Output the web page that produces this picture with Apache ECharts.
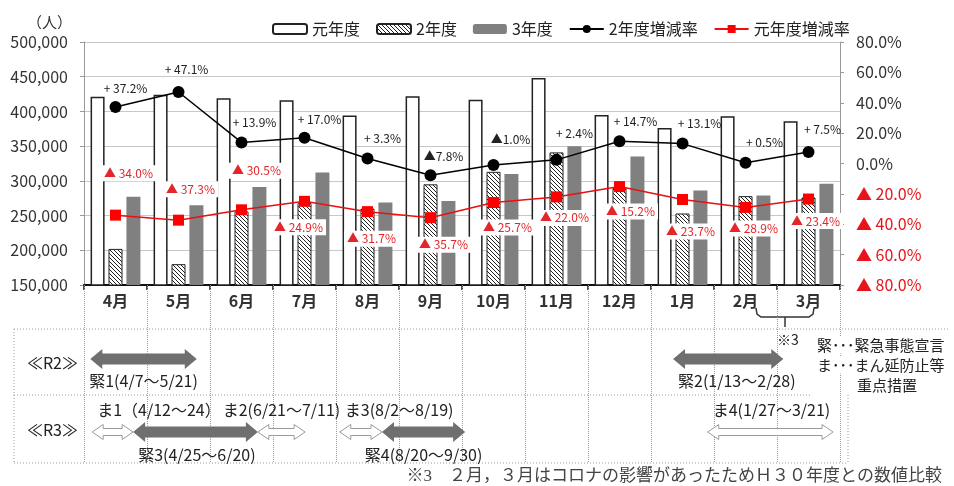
<!DOCTYPE html>
<html><head><meta charset="utf-8">
<script src="https://cdn.jsdelivr.net/npm/echarts@6/dist/echarts.min.js"></script>
<style>html,body{margin:0;padding:0;background:#fff}#c{width:954px;height:486px}</style>
</head><body><div id="c"></div>
<script>
// ---- data ----
const months = ['4月','5月','6月','7月','8月','9月','10月','11月','12月','1月','2月','3月'];
const visitorsR1 = [421000, 424000, 419000, 416000, 394000, 422000, 417000, 448000, 395000, 376000, 393000, 386000];
const visitorsR2 = [202000, 180000, 256000, 268000, 260000, 295000, 313000, 341000, 290000, 253000, 278000, 276000];
const visitorsR3 = [277000, 265000, 291000, 312000, 269000, 271000, 310000, 350000, 335000, 286000, 279000, 296000];
const rateR2 = [37.2, 47.1, 13.9, 17.0, 3.3, -7.8, -1.0, 2.4, 14.7, 13.1, 0.5, 7.5];
const rateR1 = [-34.0, -37.3, -30.5, -24.9, -31.7, -35.7, -25.7, -22.0, -15.2, -23.7, -28.9, -23.4];
const leftAxisMin = 150000, leftAxisMax = 500000, leftAxisStep = 50000;
const rightAxisMin = -80, rightAxisMax = 80, rightAxisStep = 20;
const seriesNames = ['元年度', '2年度', '3年度', '2年度増減率', '元年度増減率'];
const rowNames = ['≪R2≫', '≪R3≫'];
const periodNames = ['緊1(4/7～5/21)', '緊2(1/13～2/28)', 'ま1（4/12～24）', '緊3(4/25～6/20)', 'ま2(6/21～7/11)', 'ま3(8/2～8/19)', '緊4(8/20～9/30)', 'ま4(1/27～3/21)'];
const periodRow = [0, 0, 1, 1, 1, 1, 1, 1];
// start / end of each period in months counted from the start of April
const periodStart = [0.10, 9.35, 0.13, 0.78, 2.76, 4.06, 4.73, 9.90];
const periodEnd   = [1.79, 11.10, 0.78, 2.76, 3.51, 4.73, 6.05, 11.89];

// ---- layout (label placement) ----
const periodAnchor = ['center','start','start','start','center','start','center','start'];
const blackLabelOffset = [[10,-19],[8,-23],[13,-20],[15,-18],[15,-20],[13,-19],[17,-26],[18,-26],[16,-20],[17,-20],[19,-20],[14,-23]];
const redLabelOffset = [[13,-42],[12,-31],[15,-39],[-6,26],[4,27],[13,27],[14,25],[8,21],[11,25],[8,32],[8,21],[7,22]];

const FONT = '"Noto Sans CJK JP", "Noto Sans", sans-serif';

function hatchCanvas(){
  const c = document.createElement('canvas');
  c.width = 4; c.height = 4;
  const g = c.getContext('2d');
  g.fillStyle = '#fff'; g.fillRect(0,0,4,4);
  g.strokeStyle = '#222'; g.lineWidth = 1;
  g.beginPath();
  g.moveTo(-1,-1); g.lineTo(5,5);
  g.moveTo(-1,3); g.lineTo(1,5);
  g.moveTo(3,-1); g.lineTo(5,1);
  g.stroke();
  return c;
}
const hatch = {image: hatchCanvas(), repeat: 'repeat'};

function fmtRate(v){
  return v < 0 ? '▲' + Math.abs(v).toFixed(1) + '%' : '+ ' + v.toFixed(1) + '%';
}

const chart = echarts.init(document.getElementById('c'), null, {renderer: 'canvas'});

const option = {
  animation: false,
  textStyle: {fontFamily: FONT},
  legend: {
    left: 267, top: 16,
    itemWidth: 34, itemHeight: 10, itemGap: 16,
    textStyle: {fontSize: 16, color: '#222', fontFamily: FONT},
    data: seriesNames
  },
  grid: [
    {left: 84, top: 42, width: 756, height: 243},
    {left: 84, top: 329, width: 756, height: 134}
  ],
  xAxis: [
    {
      type: 'category', gridIndex: 0, position: 'bottom', data: months,
      axisLine: {onZero: false, lineStyle: {color: '#111', width: 2}},
      axisTick: {show: true, length: 5, lineStyle: {color: '#111', width: 1.5}},
      axisLabel: {margin: 8, fontSize: 16, fontWeight: 'bold', color: '#333', fontFamily: FONT}
    },
    {
      type: 'category', gridIndex: 0, position: 'bottom', data: months,
      axisLine: {show: false, onZero: false}, axisLabel: {show: false},
      axisTick: {show: true, length: 178, lineStyle: {type: 'dotted', color: '#9a9a9a', width: 1}}
    },
    {type: 'value', gridIndex: 1, min: 0, max: 12, show: false}
  ],
  yAxis: [
    {
      type: 'value', gridIndex: 0, position: 'left',
      min: leftAxisMin, max: leftAxisMax, interval: leftAxisStep,
      name: '（人）', nameLocation: 'end', nameGap: 12,
      nameTextStyle: {fontSize: 15, color: '#333', align: 'right', padding: [0, 12, 0, 0], fontFamily: FONT},
      axisLine: {show: true, onZero: false, lineStyle: {color: '#999'}},
      axisTick: {show: true, length: 4, lineStyle: {color: '#999'}},
      axisLabel: {margin: 16, fontSize: 16, color: '#333', fontFamily: FONT,
        formatter: v => v.toLocaleString('en-US')},
      splitLine: {lineStyle: {color: '#c8c8c8', width: 1}}
    },
    {
      type: 'value', gridIndex: 0, position: 'right',
      min: rightAxisMin, max: rightAxisMax, interval: rightAxisStep,
      axisLine: {show: true, onZero: false, lineStyle: {color: '#999'}},
      axisTick: {show: true, length: 4, lineStyle: {color: '#999'}},
      splitLine: {show: false},
      axisLabel: {
        margin: 16, fontFamily: FONT,
        formatter: v => v < 0 ? '{r|▲ ' + Math.abs(v).toFixed(1) + '%}' : '{b|' + v.toFixed(1) + '%}',
        rich: {
          b: {fontSize: 16, color: '#333', fontFamily: FONT},
          r: {fontSize: 16, color: '#e8141b', fontFamily: FONT}
        }
      }
    },
    {
      type: 'category', gridIndex: 1, data: rowNames, inverse: true,
      axisLine: {show: false}, axisTick: {show: false}, splitLine: {show: false},
      axisLabel: {margin: 6, fontSize: 16, color: '#222', fontFamily: FONT}
    }
  ],
  series: [
    {
      name: seriesNames[0], type: 'bar', xAxisIndex: 0, yAxisIndex: 0,
      data: visitorsR1, barWidth: 14, barGap: '28%', z: 2,
      itemStyle: {color: '#fff', borderColor: '#222', borderWidth: 1.5}
    },
    {
      name: seriesNames[1], type: 'bar', xAxisIndex: 0, yAxisIndex: 0,
      data: visitorsR2, barWidth: 14, barGap: '28%', z: 2,
      itemStyle: {color: hatch, borderColor: '#222', borderWidth: 1}
    },
    {
      name: seriesNames[2], type: 'bar', xAxisIndex: 0, yAxisIndex: 0,
      data: visitorsR3, barWidth: 14, barGap: '28%', z: 2,
      itemStyle: {color: '#808080'}
    },
    {
      name: seriesNames[3], type: 'line', xAxisIndex: 0, yAxisIndex: 1, z: 6,
      data: rateR2.map((v, i) => ({value: v, label: {offset: blackLabelOffset[i]}})),
      symbol: 'circle', symbolSize: 12,
      itemStyle: {color: '#000'},
      lineStyle: {color: '#000', width: 1.5},
      label: {show: true, position: 'inside', fontSize: 12, color: '#222', fontFamily: FONT,
        formatter: p => fmtRate(p.value)}
    },
    {
      name: seriesNames[4], type: 'line', xAxisIndex: 0, yAxisIndex: 1, z: 5,
      data: rateR1.map((v, i) => ({value: v, label: {offset: redLabelOffset[i]}})),
      symbol: 'rect', symbolSize: 11,
      itemStyle: {color: '#ff0000'},
      lineStyle: {color: '#e81010', width: 1.5},
      label: {show: true, position: 'inside', fontSize: 12, color: '#e3262b', fontFamily: FONT,
        backgroundColor: '#fff', padding: [2, 3],
        formatter: p => '▲ ' + Math.abs(p.value).toFixed(1) + '%'}
    },
    {
      name: 'periods', type: 'custom', xAxisIndex: 2, yAxisIndex: 2, clip: false, z: 3,
      data: periodStart.map((s, i) => [s, periodEnd[i], periodRow[i]]),
      encode: {x: [0, 1], y: 2},
      renderItem: function (params, api) {
        const i = params.dataIndex;
        const row = api.value(2);
        const s = api.coord([api.value(0), row]);
        const e = api.coord([api.value(1), row]);
        const emergency = periodNames[i].charAt(0) === '緊';
        const y = s[1] + (row === 0 ? -3.5 : 2.5);
        const bh = emergency ? 5.5 : 3.5, hh = emergency ? 10 : 7.5, hl = emergency ? 12 : 11;
        const x1 = s[0], x2 = e[0];
        const pts = [[x1,y],[x1+hl,y-hh],[x1+hl,y-bh],[x2-hl,y-bh],[x2-hl,y-hh],[x2,y],[x2-hl,y+hh],[x2-hl,y+bh],[x1+hl,y+bh],[x1+hl,y+hh]];
        const ly = row === 0 ? y + 22 : (emergency ? y + 23 : y - 22);
        const anchor = periodAnchor[i];
        return {type: 'group', children: [
          {type: 'polygon', shape: {points: pts},
            style: {fill: emergency ? '#6f6f6f' : '#fff', stroke: emergency ? null : '#9a9a9a', lineWidth: 1}},
          {type: 'text', x: anchor === 'start' ? x1 + 5 : (x1 + x2) / 2, y: ly,
            style: {text: periodNames[i], fill: '#222', font: '16px ' + FONT,
              align: anchor === 'start' ? 'left' : 'center', verticalAlign: 'middle'}}
        ]};
      }
    }
  ],
  graphic: [
    // table borders
    {type: 'line', shape: {x1: 14, y1: 329, x2: 950, y2: 329}, style: {stroke: '#9a9a9a', lineDash: [1, 2], lineWidth: 1}},
    {type: 'line', shape: {x1: 14, y1: 395, x2: 812, y2: 395}, style: {stroke: '#9a9a9a', lineDash: [1, 2], lineWidth: 1}},
    {type: 'line', shape: {x1: 14, y1: 463, x2: 848, y2: 463}, style: {stroke: '#9a9a9a', lineDash: [1, 2], lineWidth: 1}},
    {type: 'line', shape: {x1: 14, y1: 329, x2: 14, y2: 463}, style: {stroke: '#9a9a9a', lineDash: [1, 2], lineWidth: 1}},
    {type: 'line', shape: {x1: 848, y1: 395, x2: 848, y2: 463}, style: {stroke: '#9a9a9a', lineDash: [1, 2], lineWidth: 1}},
    // brace under Feb/Mar
    {type: 'polyline', shape: {points: [[756,308],[757,314],[761,317],[809,317],[813,314],[814,308]]}, style: {stroke: '#333', lineWidth: 1.5, fill: null}},
    {type: 'line', shape: {x1: 785, y1: 317, x2: 785, y2: 327}, style: {stroke: '#333', lineWidth: 1.5}},
    {type: 'text', x: 777, y: 340, style: {text: '※3', font: '14px ' + FONT, fill: '#222', verticalAlign: 'middle'}},
    // side legend
    {type: 'text', x: 816, y: 345, z: 10, style: {text: '緊･･･緊急事態宣言', font: '15px ' + FONT, fill: '#222', verticalAlign: 'middle', backgroundColor: '#fff', padding: [1, 1]}},
    {type: 'text', x: 816, y: 365, z: 10, style: {text: 'ま･･･まん延防止等', font: '15px ' + FONT, fill: '#222', verticalAlign: 'middle', backgroundColor: '#fff', padding: [1, 1]}},
    {type: 'text', x: 857, y: 385, z: 10, style: {text: '重点措置', font: '15px ' + FONT, fill: '#222', verticalAlign: 'middle'}},
    // footnote
    {type: 'text', x: 942, y: 477, style: {text: '※3　２月，３月はコロナの影響があったためＨ３０年度との数値比較', font: '17px "Liberation Serif", ' + FONT, fill: '#444', align: 'right', verticalAlign: 'middle'}}
  ]
};
chart.setOption(option);
</script></body></html>
